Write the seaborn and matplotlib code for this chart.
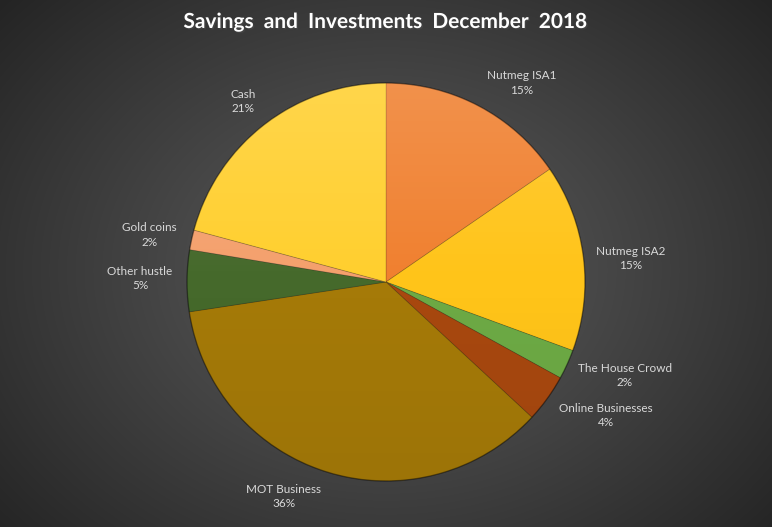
import numpy as np
import matplotlib
matplotlib.use("Agg")
import matplotlib.pyplot as plt
import matplotlib.patheffects as pe
from matplotlib.patches import Circle
import seaborn as sns

# Data (share of total, %)
categories = ['Nutmeg ISA1', 'Nutmeg ISA2', 'The House Crowd', 'Online Businesses',
              'MOT Business', 'Other hustle', 'Gold coins', 'Cash']
shares = [15.4, 15.2, 2.4, 3.9, 35.7, 5.0, 1.6, 20.8]
slice_colors = ['#F0802F', '#FFC419', '#6DAA45', '#A8480F',
                '#A57A08', '#45692B', '#F4A06C', '#FFCF2E']

# label spots (in pie-radius units), as placed in the original
label_xy = [(0.68, 1.00), (1.23, 0.12), (1.20, -0.47), (1.105, -0.67),
            (-0.515, -1.078), (-1.236, 0.018), (-1.19, 0.236), (-0.72, 0.905)]

sns.set_theme(style="dark")
plt.rcParams['font.family'] = ['Lato', 'DejaVu Sans']

fig = plt.figure(figsize=(7.72, 5.27), dpi=100)
W, H = 772, 527

# radial grey background
bg = fig.add_axes([0, 0, 1, 1])
yy, xx = np.mgrid[0:H, 0:W]
r = np.hypot((xx - 386) / 420, (yy - 270) / 330)
r = np.clip(r / r.max(), 0, 1)
lev = (0x5c - (0x5c - 0x24) * r ** 1.1) / 255
bg.imshow(np.dstack([lev, lev, lev]), aspect='auto', extent=[0, W, H, 0])
bg.set_axis_off()

# pie axes: centre at (386, 282) px, radius 199 px, limits +-1.5
R = 199
cx, cy = 386, 282
side = 3 * R
ax = fig.add_axes([(cx - side / 2) / W, (H - cy - side / 2) / H, side / W, side / H])
ax.set_axis_off()

palette = sns.color_palette(slice_colors)
wedges, _ = ax.pie(shares, colors=palette, startangle=90, counterclock=False,
                   radius=1.0, center=(0, 0),
                   wedgeprops=dict(edgecolor=(0, 0, 0, 0.18), linewidth=0.6))

# soft vertical shading over the pie (lighter at the top)
grad = np.linspace(0, 1, 256)[:, None]
shade = np.zeros((256, 1, 4))
shade[..., :3] = np.where(grad[..., None] < 0.5, 1.0, 0.0)
shade[..., 3] = np.where(grad < 0.5, (0.5 - grad) * 0.28, (grad - 0.5) * 0.1)
im = ax.imshow(shade, extent=[-1, 1, -1, 1], aspect='auto', zorder=3)
im.set_clip_path(Circle((0, 0), 1.0, transform=ax.transData))
ax.add_patch(Circle((0, 0), 1.0, fill=False, edgecolor=(0, 0, 0, 0.35), lw=1.0, zorder=4))
ax.set_xlim(-1.5, 1.5)
ax.set_ylim(-1.5, 1.5)

# outside labels: name + rounded percent
total = sum(shares)
for (x, y), name, val in zip(label_xy, categories, shares):
    ax.text(x, y, f"{name}\n{val / total * 100:.0f}%", ha='center', va='center',
            color='#D9D9D9', fontsize=8.5, linespacing=1.35, zorder=5)

fig.text(cx / W, 1 - 22 / H, 'Savings  and  Investments  December  2018',
         ha='center', va='center', color='white', fontsize=15, fontweight='bold',
         path_effects=[pe.withSimplePatchShadow(offset=(1, -1), alpha=0.5)])

fig.savefig('out.png', dpi=100)
